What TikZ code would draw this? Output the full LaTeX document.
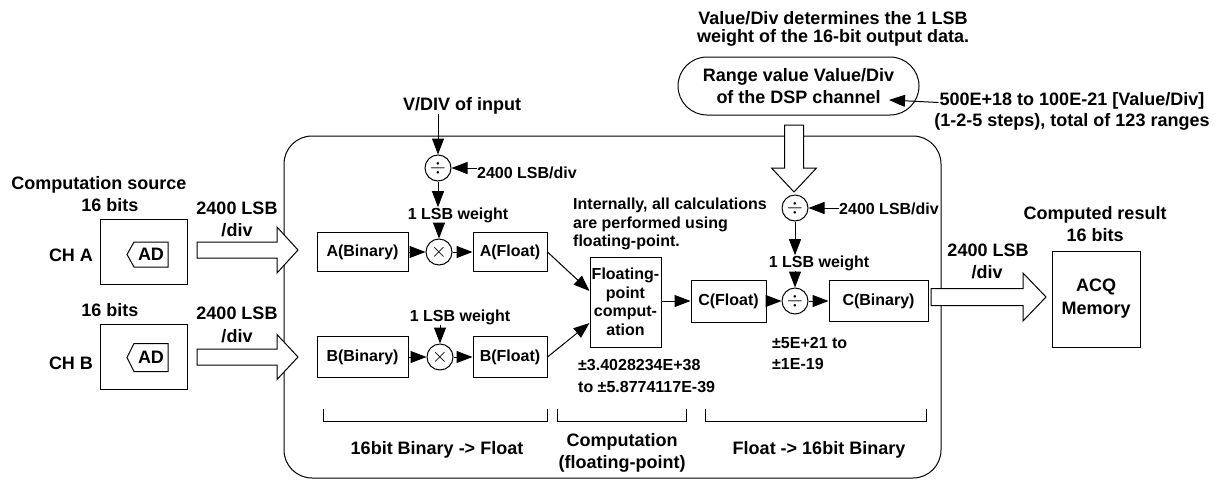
\documentclass[tikz,border=0pt]{standalone}
\usepackage{fontspec}
\setmainfont{Liberation Sans}
\usetikzlibrary{arrows.meta,calc}
\newcommand\blkR[6]{% x1, xtip, y, shaft half, head half, head length
  \draw[blk] (#1,#3-#4) -- (#2-#6,#3-#4) -- (#2-#6,#3-#5) -- (#2,#3) -- (#2-#6,#3+#5) -- (#2-#6,#3+#4) -- (#1,#3+#4) -- cycle;}
\begin{document}
\begin{tikzpicture}[x=1pt,y=-1pt,
  fnt/.style={font=\fontsize{18}{20}\selectfont\bfseries},
  sfnt/.style={font=\fontsize{16}{18.5}\selectfont\bfseries},
  txt/.style={fnt, inner sep=0pt, anchor=base},
  txtl/.style={fnt, inner sep=0pt, anchor=base west},
  stxt/.style={sfnt, inner sep=0pt, anchor=base},
  stxtl/.style={sfnt, inner sep=0pt, anchor=base west},
  box/.style={draw, line width=1pt, inner sep=0pt, sfnt},
  circ/.style={draw, circle, line width=1pt, minimum size=26pt, inner sep=0pt, font=\fontsize{20}{20}\selectfont},
  arr/.style={line width=1pt, -{Triangle[length=16pt,width=12pt]}},
  blk/.style={draw, fill=white, line width=1pt, line join=miter},
  ln/.style={line width=1pt}]
\useasboundingbox (0,0) rectangle (1230,480);

% big frame
\draw[ln, rounded corners=28pt] (284,136) rectangle (941,478);

% ---------- left inputs
\node[txt] (src) at (99,189.5) {Computation source};
\node[txt] (bitsA) at (110,211.5) {16 bits};
\node[box, minimum width=87pt, minimum height=65pt] (chAbox) at (143.5,251.5) {};
\node[txt] (chA) at (71,261.5) {CH A};
\node[fnt, inner sep=0pt] (adA) at (151,254.5) {AD};
\draw[ln] ($(adA)+(-24,0)$) -- ($(adA)+(-17,-12.5)$) -- ($(adA)+(17,-12.5)$) -- ($(adA)+(17,12.5)$) -- ($(adA)+(-17,12.5)$) -- cycle;
\node[txt] (lsbA1) at (237,214.5) {2400 LSB};
\node[txt] (lsbA2) at (237,236.5) {/div};

\node[txt] (bitsB) at (110,316.5) {16 bits};
\node[box, minimum width=87pt, minimum height=65pt] (chBbox) at (143.5,356.5) {};
\node[txt] (chB) at (71,369.5) {CH B};
\node[fnt, inner sep=0pt] (adB) at (151,357.5) {AD};
\draw[ln] ($(adB)+(-24,0)$) -- ($(adB)+(-17,-14)$) -- ($(adB)+(17,-14)$) -- ($(adB)+(17,14)$) -- ($(adB)+(-17,14)$) -- cycle;
\node[txt] (lsbB1) at (237,319.5) {2400 LSB};
\node[txt] (lsbB2) at (237,342.5) {/div};

\blkR{197}{298}{250}{8}{23}{21}
\blkR{197}{298}{357}{8}{22.5}{21}

% ---------- A / B conversion
\node[txt] (vdiv) at (462,110.5) {V/DIV of input};
\node[circ] (divA) at (438,168) {$\div$};
\node[stxtl] (lsbdivA) at (477,178) {2400 LSB/div};
\node[stxt] (wA) at (458,219) {1 LSB weight};
\node[box, minimum width=91pt, minimum height=39pt] (abin) at (362.5,252) {A(Binary)};
\node[circ] (mulA) at (439,252) {$\times$};
\node[box, minimum width=74pt, minimum height=39pt] (afl) at (510,252) {A(Float)};

\node[stxt] (wB) at (460,321) {1 LSB weight};
\node[box, minimum width=91pt, minimum height=41pt] (bbin) at (362.5,357) {B(Binary)};
\node[circ] (mulB) at (440,357) {$\times$};
\node[box, minimum width=74pt, minimum height=41pt] (bfl) at (510,357) {B(Float)};

\draw[arr] (divA.north |- vdiv.south) -- (divA.north);
\draw[arr] (lsbdivA.west |- divA.east) -- (divA.east);
\draw[arr] (divA.south) -- (divA.south |- wA.north);
\draw[arr] (mulA.north |- wA.south) -- (mulA.north);
\draw[arr] (abin) -- (mulA);
\draw[arr] (mulA) -- (afl);
\draw[arr] (mulB.north |- wB.south) -- (mulB.north);
\draw[arr] (bbin) -- (mulB);
\draw[arr] (mulB) -- (bfl);

% ---------- computation
\node[stxtl] (int1) at (573,209) {Internally, all calculations};
\node[stxtl] (int2) at (573,228) {are performed using};
\node[stxtl] (int3) at (573,246) {floating-point.};
\node[box, minimum width=71pt, minimum height=90pt, align=center] (fp) at (625.5,302) {Floating-\\point\\comput-\\ation};
\node[stxtl] (rA1) at (578,370) {±3.4028234E+38};
\node[stxtl] (rA2) at (578,392) {to ±5.8774117E-39};
\draw[arr] (afl.east) -- ($(fp.west)+(0,-11)$);
\draw[arr] (bfl.east) -- ($(fp.west)+(0,21)$);

% ---------- output conversion
\node[txt] (val1) at (833,24) {Value/Div determines the 1 LSB};
\node[txt] (val2) at (833,42) {weight of the 16-bit output data.};
\node[draw, line width=1pt, rounded corners=29pt, minimum width=241pt, minimum height=58pt, align=center, inner sep=0pt, font=\fontsize{18}{22}\selectfont\bfseries] (dsp) at (798.5,86) {Range value Value/Div\\of the DSP channel};
\node[txt] (rng1) at (1072,105.5) {500E+18 to 100E-21 [Value/Div]};
\node[txt] (rng2) at (1072,126.5) {(1-2-5 steps), total of 123 ranges};
\coordinate (rngtip) at (889,100);
\draw[arr] ($(rng1.base west)+(-1,-3)$) -- (rngtip);

\draw[blk] (784.5,125) -- (803.5,125) -- (803.5,168) -- (816.5,168) -- (794,192) -- (771.5,168) -- (784.5,168) -- cycle;

\node[circ] (divC1) at (795,208) {$\div$};
\node[stxtl] (lsbC) at (839,214) {2400 LSB/div};
\node[stxt] (wC) at (819,267) {1 LSB weight};
\node[box, minimum width=75pt, minimum height=42pt] (cfl) at (728.5,301) {C(Float)};
\node[circ] (divC2) at (795,301) {$\div$};
\node[box, minimum width=99pt, minimum height=41pt] (cbin) at (878.5,301) {C(Binary)};
\node[stxtl] (rC1) at (772,348) {±5E+21 to};
\node[stxtl] (rC2) at (772,369) {±1E-19};

\draw[arr] (lsbC.west |- divC1.east) -- (divC1.east);
\draw[arr] (divC1.south) -- (divC1.south |- wC.north);
\draw[arr] (divC2.north |- wC.south) -- (divC2.north);
\draw[arr] (fp.east |- cfl.west) -- (cfl.west);
\draw[arr] (cfl) -- (divC2);
\draw[arr] (divC2) -- (cbin);

% ---------- output
\node[txt] (out1) at (988,256.5) {2400 LSB};
\node[txt] (out2) at (987,278.5) {/div};
\node[txt] (res1) at (1095,219.5) {Computed result};
\node[txt] (res2) at (1095,241.5) {16 bits};
\node[box, minimum width=88pt, minimum height=96pt, align=center, font=\fontsize{18}{23}\selectfont\bfseries] (acq) at (1096,299) {ACQ\\Memory};
\blkR{931}{1046}{297}{8.5}{24}{23}

% ---------- brackets
\draw[ln] (323,409) -- (323,421) -- (547,421) -- (547,409);
\draw[ln] (557,409) -- (557,421) -- (686,421) -- (686,409);
\draw[ln] (705,409) -- (705,421) -- (926,421) -- (926,409);
\node[txt] (s1) at (437,454.5) {16bit Binary -> Float};
\node[txt] (s2a) at (622,446.5) {Computation};
\node[txt] (s2b) at (622,468.5) {(floating-point)};
\node[txt] (s3) at (819,454.5) {Float -> 16bit Binary};
\end{tikzpicture}
\end{document}
